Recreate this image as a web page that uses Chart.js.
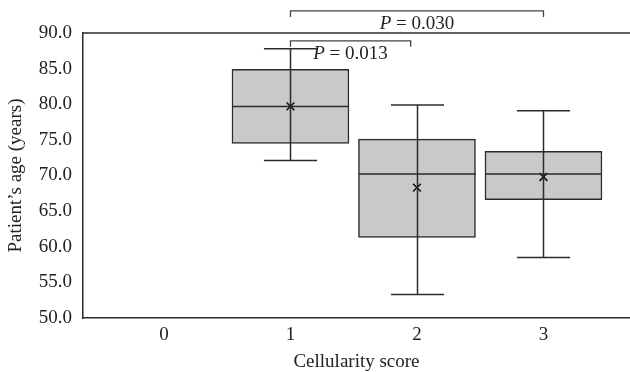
<!DOCTYPE html>
<html lang="en">

<head>
    <meta charset="UTF-8">
    <script src="https://cdn.jsdelivr.net/npm/chart.js"></script>
    <title>Cellularity score</title>
    <style>
        body { margin: 0; background: #fff; }
        .grafico { width: 630px; height: 372px; }
    </style>
</head>

<body>
    <div class="grafico">
        <canvas id="boxChart"></canvas>
    </div>
</body>

</html>
<script>
    // categorias e valores
    const scores = [1, 2, 3];
    const tickScores = [0, 1, 2, 3];
    const q1 = [74.5, 61.3, 66.6];
    const q3 = [84.9, 75.1, 73.4];
    const medianas = [79.7, 70.2, 70.2];
    const minimos = [72.1, 53.3, 58.5];
    const maximos = [87.8, 79.9, 79.1];
    const medias = [79.7, 68.3, 69.8];
    const yTicks = [50, 55, 60, 65, 70, 75, 80, 85, 90];

    // comparacoes: [de, ate, altura, texto]
    const compFrom = [1, 1];
    const compTo = [3, 1.95];
    const compY = [93.1, 88.9];
    const compTexto = ['0.030', '0.013'];

    const corLinha = '#2b2b2b';
    const fonte = "'Liberation Serif', 'DejaVu Serif', serif";

    // whiskers, medianas e colchetes de P
    const boxExtras = {
        id: 'boxExtras',
        afterDatasetsDraw(chart) {
            const ctx = chart.ctx;
            const x = chart.scales.x;
            const y = chart.scales.y;
            ctx.save();
            ctx.strokeStyle = corLinha;
            ctx.lineWidth = 1.5;
            const meia = x.getPixelForValue(0.4625) - x.getPixelForValue(0);
            const cap = x.getPixelForValue(0.21) - x.getPixelForValue(0);
            for (let i = 0; i < scores.length; i++) {
                const cx = Math.round(x.getPixelForValue(scores[i])) + 0.5;
                ctx.beginPath();
                // mediana
                const ym = y.getPixelForValue(medianas[i]);
                ctx.moveTo(cx - meia, ym);
                ctx.lineTo(cx + meia, ym);
                // whisker vertical
                ctx.moveTo(cx, y.getPixelForValue(maximos[i]));
                ctx.lineTo(cx, y.getPixelForValue(minimos[i]));
                // caps
                const yMax = y.getPixelForValue(maximos[i]);
                const yMin = y.getPixelForValue(minimos[i]);
                ctx.moveTo(cx - cap, yMax);
                ctx.lineTo(cx + cap, yMax);
                ctx.moveTo(cx - cap, yMin);
                ctx.lineTo(cx + cap, yMin);
                ctx.stroke();
            }

            // colchetes
            ctx.lineWidth = 1.3;
            ctx.strokeStyle = '#444';
            ctx.fillStyle = '#222';
            ctx.textBaseline = 'middle';
            for (let k = 0; k < compFrom.length; k++) {
                const x1 = x.getPixelForValue(compFrom[k]);
                const x2 = x.getPixelForValue(compTo[k]);
                const yb = y.getPixelForValue(compY[k]);
                ctx.beginPath();
                ctx.moveTo(x1, yb + 6);
                ctx.lineTo(x1, yb);
                ctx.lineTo(x2, yb);
                ctx.lineTo(x2, yb + 6);
                ctx.stroke();

                const cxTxt = (x1 + x2) / 2;
                const ty = yb + 13;
                ctx.font = "italic 19px " + fonte;
                const wP = ctx.measureText('P').width;
                ctx.font = "19px " + fonte;
                const resto = ' = ' + compTexto[k];
                const wR = ctx.measureText(resto).width;
                let sx = cxTxt - (wP + wR) / 2;
                ctx.textAlign = 'left';
                ctx.font = "italic 19px " + fonte;
                ctx.fillText('P', sx, ty);
                ctx.font = "19px " + fonte;
                ctx.fillText(resto, sx + wP, ty);
            }
            ctx.restore();
        }
    };

    const dados = {
        datasets: [
            {
                type: 'scatter',
                label: 'media',
                data: scores.map((s, i) => ({ x: s, y: medias[i] })),
                pointStyle: 'crossRot',
                pointRadius: 5.5,
                borderColor: '#111',
                borderWidth: 1.6,
                order: 0
            },
            {
                type: 'bar',
                label: 'caixa',
                data: scores.map((s, i) => ({ x: s, y: [q1[i], q3[i]] })),
                backgroundColor: '#c8c9cb',
                borderColor: corLinha,
                borderWidth: 1.5,
                borderSkipped: false,
                barThickness: 117,
                order: 1
            }
        ]
    };

    const config = {
        type: 'bar',
        data: dados,
        options: {
            responsive: true,
            maintainAspectRatio: false,
            animation: false,
            layout: { autoPadding: false, padding: { top: 33, right: 0, left: 0, bottom: 0 } },
            plugins: {
                legend: { display: false },
                tooltip: { enabled: false }
            },
            scales: {
                x: {
                    type: 'linear',
                    offset: false,
                    min: -0.64,
                    max: 3.684,
                    afterBuildTicks: (scale) => { scale.ticks = tickScores.map(v => ({ value: v })); },
                    afterFit: (scale) => {
                        scale.height = 54;
                        scale.paddingLeft = 0;
                        scale.paddingRight = 0;
                    },
                    grid: { display: false, drawTicks: false, offset: false },
                    border: { color: corLinha, width: 1.5 },
                    ticks: {
                        color: '#222',
                        padding: 6,
                        font: { family: fonte, size: 19 }
                    },
                    title: {
                        display: true,
                        text: 'Cellularity score',
                        color: '#222',
                        padding: { top: 0, bottom: 0 },
                        font: { family: fonte, size: 19, lineHeight: 1 }
                    }
                },
                y: {
                    min: 50,
                    max: 90,
                    afterBuildTicks: (scale) => { scale.ticks = yTicks.map(v => ({ value: v })); },
                    afterFit: (scale) => {
                        scale.width = 83;
                        scale.paddingTop = 0;
                        scale.paddingBottom = 0;
                    },
                    grid: { display: false, drawTicks: false },
                    border: { color: corLinha, width: 1.5 },
                    ticks: {
                        color: '#222',
                        padding: 11,
                        font: { family: fonte, size: 19 },
                        callback: (v) => Number(v).toFixed(1)
                    },
                    title: {
                        display: true,
                        text: 'Patient\u2019s age (years)',
                        color: '#222',
                        padding: { top: 7, bottom: 0 },
                        font: { family: fonte, size: 19, lineHeight: 1 }
                    }
                }
            }
        },
        plugins: [boxExtras, {
            id: 'linhaTopo',
            afterDraw(chart) {
                const a = chart.chartArea;
                const ctx = chart.ctx;
                ctx.save();
                ctx.strokeStyle = corLinha;
                ctx.lineWidth = 1.5;
                ctx.beginPath();
                ctx.moveTo(a.left, a.top);
                ctx.lineTo(a.right, a.top);
                ctx.stroke();
                ctx.restore();
            }
        }]
    };

    new Chart(document.getElementById('boxChart'), config);
</script>
